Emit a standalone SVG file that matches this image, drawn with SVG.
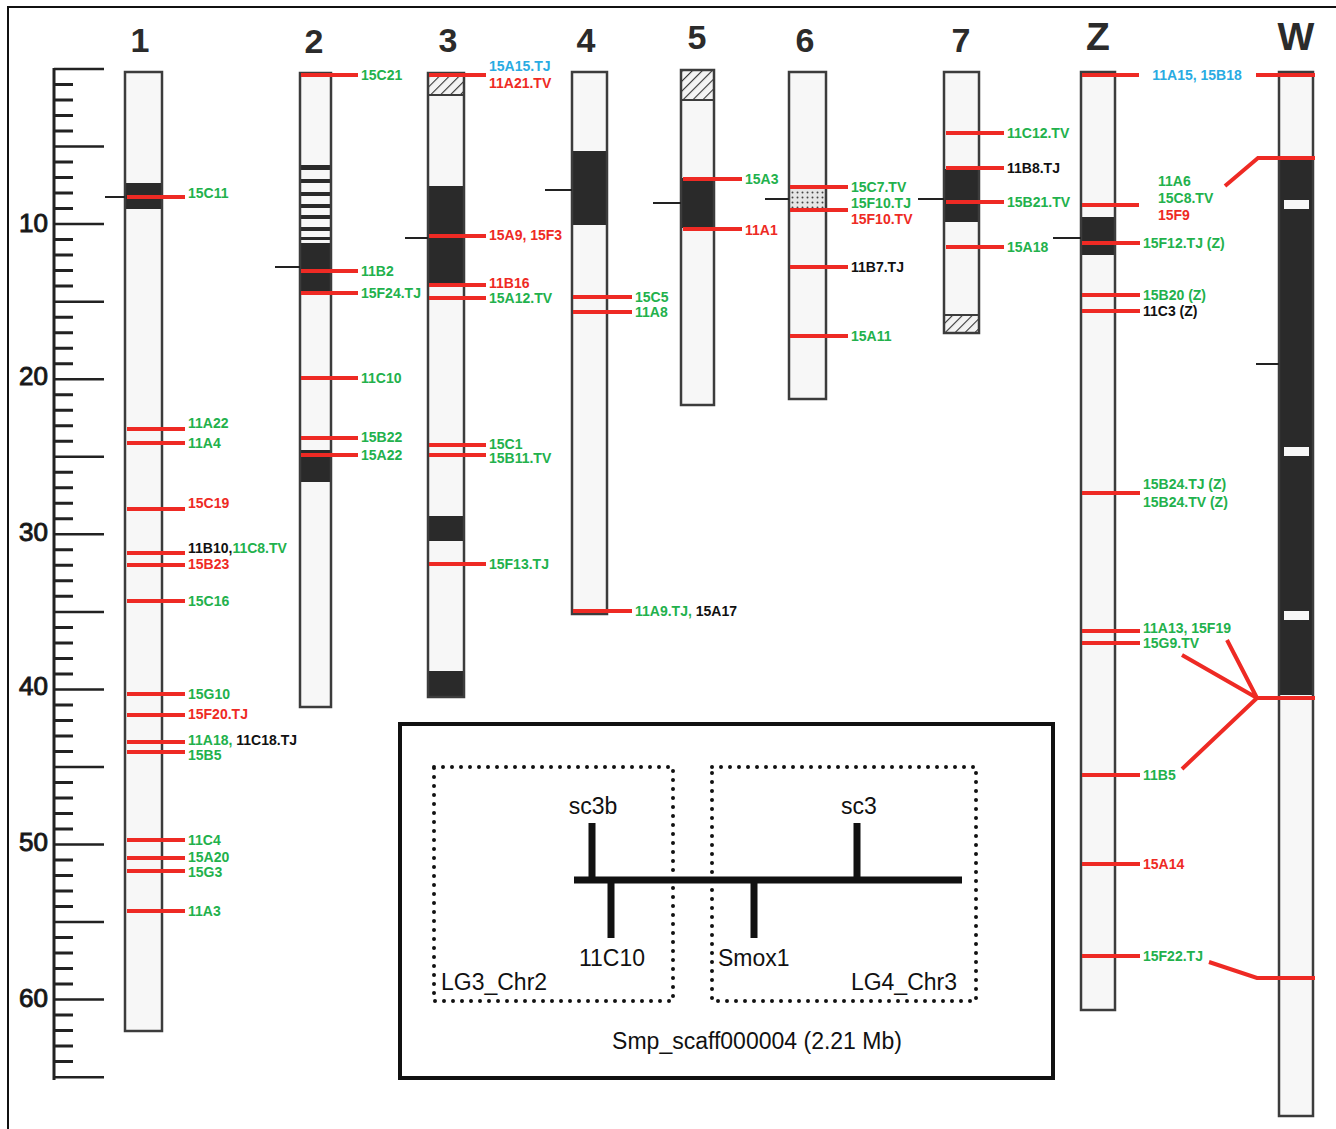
<svg xmlns="http://www.w3.org/2000/svg" width="1336" height="1129" viewBox="0 0 1336 1129">
<defs>
<pattern id="hatch" patternUnits="userSpaceOnUse" width="7" height="7" patternTransform="rotate(45)">
<rect width="7" height="7" fill="#f4f4f4"/>
<line x1="0" y1="0" x2="0" y2="7" stroke="#333" stroke-width="2.2"/>
</pattern>
<pattern id="stip" patternUnits="userSpaceOnUse" width="5" height="5">
<rect width="5" height="5" fill="#e6e6e6"/>
<circle cx="2.5" cy="2.5" r="1" fill="#444"/>
</pattern>
<style>
.ch{fill:#f7f7f7;stroke:none}
.ol{fill:none;stroke:#3c3c3c;stroke-width:2.5}
.bk{fill:#2a2a2a}
.cen{stroke:#222;stroke-width:2}
.mk{stroke:#ee2a24;stroke-width:4;fill:none}
.lb{font-family:"Liberation Sans",Arial,sans-serif;font-weight:bold;font-size:14px}
.g{fill:#22b14c}.r{fill:#ee2a24}.b{fill:#111}.bl{fill:#29abe2}
.hd{font-family:"Liberation Sans",Arial,sans-serif;font-weight:bold;fill:#2b2b2b;text-anchor:middle}
.rn{font-family:"Liberation Sans",Arial,sans-serif;font-size:26px;fill:#111;text-anchor:end}
.in{font-family:"Liberation Sans",Arial,sans-serif;font-size:23px;fill:#111}
.dot{fill:none;stroke:#111;stroke-width:4;stroke-dasharray:0 9;stroke-linecap:round}
</style>
</defs>
<rect width="1336" height="1129" fill="#fff"/>
<path d="M8 1129V7H1336" fill="none" stroke="#111" stroke-width="2"/>

<g id="ruler" stroke="#222">
<line x1="54" y1="68" x2="54" y2="1080" stroke-width="3"/>
<path stroke-width="2.5" d="M54 69h50M54 146.6h50M54 224.1h50M54 301.7h50M54 379.2h50M54 456.8h50M54 534.3h50M54 611.9h50M54 689.4h50M54 767h50M54 844.5h50M54 922.1h50M54 999.6h50M54 1077.2h50"/>
<path stroke-width="3" d="M54 84.5h19M54 100h19M54 115.5h19M54 131h19M54 162.1h19M54 177.6h19M54 193.1h19M54 208.6h19M54 239.6h19M54 255.1h19M54 270.6h19M54 286.1h19M54 317.2h19M54 332.7h19M54 348.2h19M54 363.7h19M54 394.7h19M54 410.2h19M54 425.7h19M54 441.2h19M54 472.3h19M54 487.8h19M54 503.3h19M54 518.8h19M54 549.8h19M54 565.3h19M54 580.8h19M54 596.3h19M54 627.4h19M54 642.9h19M54 658.4h19M54 673.9h19M54 704.9h19M54 720.4h19M54 735.9h19M54 751.4h19M54 782.5h19M54 798h19M54 813.5h19M54 829h19M54 860h19M54 875.5h19M54 891h19M54 906.5h19M54 937.6h19M54 953.1h19M54 968.6h19M54 984.1h19M54 1015.1h19M54 1030.6h19M54 1046.1h19M54 1061.6h19"/>
<text class="rn" x="48" y="232">10</text>
<text class="rn" x="48" y="385">20</text>
<text class="rn" x="48" y="541">30</text>
<text class="rn" x="48" y="695">40</text>
<text class="rn" x="48" y="851">50</text>
<text class="rn" x="48" y="1007">60</text>
</g>

<g id="headings">
<text class="hd" x="140" y="52" font-size="34">1</text>
<text class="hd" x="314" y="53" font-size="34">2</text>
<text class="hd" x="448" y="52" font-size="34">3</text>
<text class="hd" x="586" y="52" font-size="34">4</text>
<text class="hd" x="697" y="49" font-size="34">5</text>
<text class="hd" x="805" y="52" font-size="34">6</text>
<text class="hd" x="961" y="52" font-size="34">7</text>
<text class="hd" x="1098" y="50" font-size="39">Z</text>
<text class="hd" x="1296" y="50" font-size="39">W</text>
</g>

<g id="chr1">
<rect class="ch" x="125" y="72" width="37" height="959"/>
<rect class="bk" x="125" y="183" width="37" height="26"/>
<rect class="ol" x="125" y="72" width="37" height="959"/>
<line class="cen" x1="105" y1="197" x2="125" y2="197"/>
<path class="mk" d="M127 197H185M127 429H185M127 443H185M127 509H185M127 553H185M127 565H185M127 601H185M127 694H185M127 715H185M127 742H185M127 752H185M127 840H185M127 858H185M127 871H185M127 911H185"/>
<text class="lb g" x="188" y="198">15C11</text>
<text class="lb g" x="188" y="428">11A22</text>
<text class="lb g" x="188" y="448">11A4</text>
<text class="lb r" x="188" y="508">15C19</text>
<text class="lb b" x="188" y="553">11B10,<tspan class="g">11C8.TV</tspan></text>
<text class="lb r" x="188" y="569">15B23</text>
<text class="lb g" x="188" y="606">15C16</text>
<text class="lb g" x="188" y="699">15G10</text>
<text class="lb r" x="188" y="719">15F20.TJ</text>
<text class="lb g" x="188" y="745">11A18, <tspan class="b">11C18.TJ</tspan></text>
<text class="lb g" x="188" y="760">15B5</text>
<text class="lb g" x="188" y="845">11C4</text>
<text class="lb g" x="188" y="862">15A20</text>
<text class="lb g" x="188" y="877">15G3</text>
<text class="lb g" x="188" y="916">11A3</text>
</g>

<g id="chr2">
<rect class="ch" x="300" y="73" width="31" height="634"/>
<path class="bk" d="M300 165h31v5h-31zM300 179h31v4h-31zM300 192h31v4h-31zM300 204h31v4h-31zM300 215h31v4h-31zM300 227h31v4h-31zM300 237h31v3h-31zM300 243h31v48h-31zM300 450h31v32h-31z"/>
<rect class="ol" x="300" y="73" width="31" height="634"/>
<line class="cen" x1="275" y1="267" x2="300" y2="267"/>
<path class="mk" d="M301 75H358M301 271H358M301 293H358M301 378H358M301 438H358M301 455H358"/>
<text class="lb g" x="361" y="80">15C21</text>
<text class="lb g" x="361" y="276">11B2</text>
<text class="lb g" x="361" y="298">15F24.TJ</text>
<text class="lb g" x="361" y="383">11C10</text>
<text class="lb g" x="361" y="442">15B22</text>
<text class="lb g" x="361" y="460">15A22</text>
</g>

<g id="chr3">
<rect class="ch" x="428" y="73" width="36" height="624"/>
<rect x="428" y="73" width="36" height="22" fill="url(#hatch)"/>
<line x1="428" y1="95" x2="464" y2="95" stroke="#3c3c3c" stroke-width="2"/>
<path class="bk" d="M428 186h36v97h-36zM428 516h36v25h-36zM428 671h36v26h-36z"/>
<rect class="ol" x="428" y="73" width="36" height="624"/>
<line class="cen" x1="405" y1="238" x2="428" y2="238"/>
<path class="mk" d="M429 75H486M429 236H486M429 285H486M429 298H486M429 445H486M429 455H486M429 564H486"/>
<text class="lb bl" x="489" y="71">15A15.TJ</text>
<text class="lb r" x="489" y="88">11A21.TV</text>
<text class="lb r" x="489" y="240">15A9, 15F3</text>
<text class="lb r" x="489" y="288">11B16</text>
<text class="lb g" x="489" y="303">15A12.TV</text>
<text class="lb g" x="489" y="449">15C1</text>
<text class="lb g" x="489" y="463">15B11.TV</text>
<text class="lb g" x="489" y="569">15F13.TJ</text>
</g>

<g id="chr4">
<rect class="ch" x="572" y="72" width="35" height="542"/>
<rect class="bk" x="572" y="151" width="35" height="74"/>
<rect class="ol" x="572" y="72" width="35" height="542"/>
<line class="cen" x1="545" y1="190" x2="572" y2="190"/>
<path class="mk" d="M573 297H632M573 312H632M573 611H632"/>
<text class="lb g" x="635" y="302">15C5</text>
<text class="lb g" x="635" y="317">11A8</text>
<text class="lb g" x="635" y="616">11A9.TJ, <tspan class="b">15A17</tspan></text>
</g>

<g id="chr5">
<rect class="ch" x="681" y="70" width="33" height="335"/>
<rect x="681" y="70" width="33" height="30" fill="url(#hatch)"/>
<line x1="681" y1="100" x2="714" y2="100" stroke="#3c3c3c" stroke-width="2"/>
<rect class="bk" x="681" y="178" width="33" height="50"/>
<rect class="ol" x="681" y="70" width="33" height="335"/>
<line class="cen" x1="653" y1="203" x2="681" y2="203"/>
<path class="mk" d="M683 179H742M683 229H742"/>
<text class="lb g" x="745" y="184">15A3</text>
<text class="lb r" x="745" y="235">11A1</text>
</g>

<g id="chr6">
<rect class="ch" x="789" y="72" width="37" height="327"/>
<rect x="789" y="189" width="37" height="19" fill="url(#stip)"/>
<rect class="ol" x="789" y="72" width="37" height="327"/>
<line class="cen" x1="765" y1="199" x2="789" y2="199"/>
<path class="mk" d="M790 187H848M790 210H848M790 267H848M790 336H848"/>
<text class="lb g" x="851" y="192">15C7.TV</text>
<text class="lb g" x="851" y="208">15F10.TJ</text>
<text class="lb r" x="851" y="224">15F10.TV</text>
<text class="lb b" x="851" y="272">11B7.TJ</text>
<text class="lb g" x="851" y="341">15A11</text>
</g>

<g id="chr7">
<rect class="ch" x="944" y="72" width="35" height="261"/>
<rect class="bk" x="944" y="169" width="35" height="53"/>
<rect x="944" y="315" width="35" height="18" fill="url(#hatch)"/>
<line x1="944" y1="315" x2="979" y2="315" stroke="#3c3c3c" stroke-width="2"/>
<rect class="ol" x="944" y="72" width="35" height="261"/>
<line class="cen" x1="918" y1="199" x2="944" y2="199"/>
<path class="mk" d="M946 133H1004M946 168H1004M946 202H1004M946 247H1004"/>
<text class="lb g" x="1007" y="138">11C12.TV</text>
<text class="lb b" x="1007" y="173">11B8.TJ</text>
<text class="lb g" x="1007" y="207">15B21.TV</text>
<text class="lb g" x="1007" y="252">15A18</text>
</g>

<g id="chrZ">
<rect class="ch" x="1081" y="72" width="34" height="938"/>
<rect class="bk" x="1081" y="217" width="34" height="38"/>
<rect class="ol" x="1081" y="72" width="34" height="938"/>
<line class="cen" x1="1053" y1="238" x2="1081" y2="238"/>
<path class="mk" d="M1082 75H1139M1082 205H1139M1082 243H1140M1082 295H1140M1082 311H1140M1082 493H1140M1082 631H1140M1082 643H1140M1082 775H1140M1082 864H1140M1082 956H1140"/>
<text class="lb bl" x="1197" y="80" text-anchor="middle">11A15, 15B18</text>
<text class="lb g" x="1158" y="186">11A6</text>
<text class="lb g" x="1158" y="203">15C8.TV</text>
<text class="lb r" x="1158" y="220">15F9</text>
<text class="lb g" x="1143" y="248">15F12.TJ (Z)</text>
<text class="lb g" x="1143" y="300">15B20 (Z)</text>
<text class="lb b" x="1143" y="316">11C3 (Z)</text>
<text class="lb g" x="1143" y="489">15B24.TJ (Z)</text>
<text class="lb g" x="1143" y="507">15B24.TV (Z)</text>
<text class="lb g" x="1143" y="633">11A13, 15F19</text>
<text class="lb g" x="1143" y="648">15G9.TV</text>
<text class="lb g" x="1143" y="780">11B5</text>
<text class="lb r" x="1143" y="869">15A14</text>
<text class="lb g" x="1143" y="961">15F22.TJ</text>
</g>

<g id="chrW">
<rect class="ch" x="1279" y="72" width="34" height="1044"/>
<rect class="bk" x="1279" y="158" width="34" height="537"/>
<path fill="#f7f7f7" d="M1284 200h25v9h-25zM1284 447h25v9h-25zM1284 611h25v9h-25z"/>
<rect class="ol" x="1279" y="72" width="34" height="1044"/>
<line class="cen" x1="1256" y1="364" x2="1279" y2="364"/>
</g>

<g id="connectors" class="mk" stroke-linejoin="miter">
<path d="M1256 75H1315"/>
<path d="M1225 186L1258 158H1315"/>
<path d="M1227 640L1257 698M1182 655L1257 698M1182 769L1257 698M1257 698H1315"/>
<path d="M1209 962L1257 978H1315"/>
</g>

<g id="inset">
<rect x="400" y="724" width="653" height="354" fill="none" stroke="#111" stroke-width="4"/>
<rect class="dot" x="434" y="767" width="239" height="234"/>
<rect class="dot" x="712" y="767" width="264" height="234"/>
<path d="M574 880H962M592 823V880M611 880V938M754 880V938M857 823V880" stroke="#111" stroke-width="7" fill="none"/>
<text class="in" x="593" y="814" text-anchor="middle">sc3b</text>
<text class="in" x="859" y="814" text-anchor="middle">sc3</text>
<text class="in" x="612" y="966" text-anchor="middle">11C10</text>
<text class="in" x="718" y="966">Smox1</text>
<text class="in" x="441" y="990">LG3_Chr2</text>
<text class="in" x="957" y="990" text-anchor="end">LG4_Chr3</text>
<text class="in" x="757" y="1049" text-anchor="middle">Smp_scaff000004 (2.21 Mb)</text>
</g>
</svg>
